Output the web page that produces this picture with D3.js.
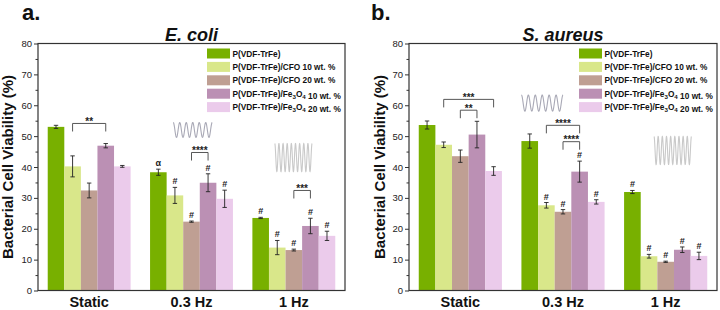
<!DOCTYPE html>
<html>
<head>
<meta charset="utf-8">
<script src="https://cdn.jsdelivr.net/npm/d3@7"></script>
<style>
  body { margin: 0; background: #fff; }
  svg { display: block; font-family: Arial, "Liberation Sans", sans-serif; }
</style>
</head>
<body>
<div id="chart"></div>
<script>
// ---- data ----
const groups = ["Static", "0.3 Hz", "1 Hz"];
const seriesNames = ["P(VDF-TrFe)", "P(VDF-TrFe)/CFO 10 wt. %", "P(VDF-TrFe)/CFO 20 wt. %",
    "P(VDF-TrFe)/Fe3O4 10 wt. %", "P(VDF-TrFe)/Fe3O4 20 wt. %"];
const seriesColors = ["#78b000", "#d9e78a", "#bf9f93", "#bb90b4", "#ebcbeb"];
const yTicks = [0, 10, 20, 30, 40, 50, 60, 70, 80];

// E. coli : one row per group, one value per series
const ecoliMean = [[53.0, 40.2, 32.4, 46.9, 40.2], [38.3, 30.8, 22.3, 34.9, 29.7], [23.5, 13.9, 13.1, 20.9, 17.7]];
const ecoliErr = [[0.5, 3.4, 2.4, 0.7, 0.3], [1.0, 2.6, 0.2, 2.9, 2.8], [0.2, 2.3, 0.3, 2.5, 1.5]];
const ecoliMarks = [["", "", "", "", ""], ["α", "#", "#", "#", "#"], ["#", "#", "#", "#", "#"]];
// [group, from series, to series, label, bracket level]
const ecoliSig = [[0, 1, 3, "**", 54.1], [1, 2, 3, "****", 44.7], [2, 2, 3, "***", 32.4]];

// S. aureus
const aureusMean = [[53.6, 47.2, 43.5, 50.5, 38.7], [48.4, 27.6, 25.5, 38.5, 28.7], [31.9, 11.1, 9.3, 13.2, 11.2]];
const aureusErr = [[1.3, 0.9, 2.0, 4.3, 1.4], [2.3, 0.9, 0.7, 3.4, 0.7], [0.5, 0.6, 0.2, 0.9, 1.2]];
const aureusMarks = [["", "", "", "", ""], ["", "#", "#", "#", "#"], ["#", "#", "#", "#", "#"]];
const aureusSig = [[0, 1, 4, "***", 61.9], [0, 2, 3, "**", 58.4], [1, 1, 3, "****", 53.5], [1, 2, 3, "****", 48.2]];

// ---- canvas ----
const width = 720, height = 310;
const svg = d3.select("#chart").append("svg")
    .attr("width", width)
    .attr("height", height);

function legendLabel(sel, name) {
    // Fe3O4 -> subscripts
    const parts = name.split(/(Fe3O4)/);
    parts.forEach(p => {
        if (p === "Fe3O4") {
            sel.append("tspan").text("Fe");
            sel.append("tspan").attr("font-size", "6.2px").attr("dy", 2).text("3");
            sel.append("tspan").attr("dy", -2).text("O");
            sel.append("tspan").attr("font-size", "6.2px").attr("dy", 2).text("4");
            sel.append("tspan").attr("dy", -2).text("");
        } else if (p.length) {
            sel.append("tspan").text(p);
        }
    });
}

function drawPanel(cfg) {
    const g = svg.append("g");
    const x = d3.scaleBand().domain(groups).range([cfg.left, cfg.right])
        .paddingInner(0.19).paddingOuter(0.095);
    const xs = d3.scaleBand().domain(d3.range(seriesNames.length)).range([0, x.bandwidth()]);
    const y = d3.scaleLinear().domain([0, 80]).range([cfg.bottom, cfg.top]);

    // bars
    groups.forEach((grp, gi) => {
        const gg = g.append("g").attr("transform", `translate(${x(grp)},0)`);
        gg.selectAll("rect")
            .data(cfg.mean[gi])
            .enter().append("rect")
            .attr("x", (d, i) => xs(i))
            .attr("y", d => y(d))
            .attr("width", xs.bandwidth())
            .attr("height", d => y(0) - y(d))
            .attr("fill", (d, i) => seriesColors[i]);

        // error bars
        const eb = gg.selectAll("g.err")
            .data(cfg.mean[gi].map((m, i) => ({ m: m, e: cfg.err[gi][i], i: i })))
            .enter().append("g").attr("class", "err")
            .attr("stroke", "#222").attr("stroke-width", 0.9);
        eb.append("line")
            .attr("x1", d => xs(d.i) + xs.bandwidth() / 2)
            .attr("x2", d => xs(d.i) + xs.bandwidth() / 2)
            .attr("y1", d => y(d.m - d.e)).attr("y2", d => y(d.m + d.e));
        [-1, 1].forEach(s => {
            eb.append("line")
                .attr("x1", d => xs(d.i) + xs.bandwidth() / 2 - 2.2)
                .attr("x2", d => xs(d.i) + xs.bandwidth() / 2 + 2.2)
                .attr("y1", d => y(d.m + s * d.e)).attr("y2", d => y(d.m + s * d.e));
        });

        // significance marks (#, α)
        gg.selectAll("text.mark")
            .data(cfg.mean[gi].map((m, i) => ({ m: m, e: cfg.err[gi][i], i: i, t: cfg.marks[gi][i] })))
            .enter().append("text").attr("class", "mark")
            .attr("x", d => xs(d.i) + xs.bandwidth() / 2)
            .attr("y", d => y(d.m + d.e) - 3)
            .attr("text-anchor", "middle")
            .attr("font-size", "9px").attr("font-weight", "bold").attr("fill", "#222")
            .text(d => d.t);
    });

    // brackets
    cfg.sig.forEach(s => {
        const grp = groups[s[0]];
        const x1 = x(grp) + xs(s[1]) + xs.bandwidth() / 2;
        const x2 = x(grp) + xs(s[2]) + xs.bandwidth() / 2;
        const yt = y(s[4]), yb = y(s[4] - 2.6);
        g.append("path")
            .attr("d", `M${x1},${yb}V${yt}H${x2}V${yb}`)
            .attr("fill", "none").attr("stroke", "#444").attr("stroke-width", 0.9);
        g.append("text")
            .attr("x", (x1 + x2) / 2).attr("y", yt + 1.5)
            .attr("text-anchor", "middle")
            .attr("font-size", "10px").attr("font-weight", "bold").attr("fill", "#222")
            .text(s[3]);
    });

    // waveform icons
    cfg.waves.forEach(w => {
        const x0 = x(groups[w.group]) + w.from * x.bandwidth();
        const x1 = x(groups[w.group]) + w.to * x.bandwidth();
        const pts = d3.range(0, 401).map(k => {
            const t = k / 400;
            return [x0 + t * (x1 - x0), (y(w.hi) + y(w.lo)) / 2 - Math.cos(t * w.cycles * 2 * Math.PI) * (y(w.lo) - y(w.hi)) / 2];
        });
        g.append("path")
            .attr("d", d3.line()(pts))
            .attr("fill", "none").attr("stroke", w.color).attr("stroke-width", 1.1);
    });

    // y axis
    const yAxis = g.append("g")
        .attr("transform", `translate(${cfg.left},0)`)
        .call(d3.axisLeft(y).tickValues(yTicks).tickSize(4).tickPadding(2));
    yAxis.select(".domain").remove();
    yAxis.selectAll("text").attr("font-size", "9.5px").attr("fill", "#222").attr("font-family", "Arial, Liberation Sans");
    yAxis.selectAll("line").attr("stroke", "#333");
    g.append("g")
        .attr("transform", `translate(${cfg.left},0)`)
        .call(d3.axisLeft(y).tickValues(d3.range(5, 80, 10)).tickSize(2.5).tickFormat(""))
        .call(a => a.select(".domain").remove())
        .selectAll("line").attr("stroke", "#333");

    // x axis labels
    const xAxis = g.append("g")
        .attr("transform", `translate(0,${cfg.bottom})`)
        .call(d3.axisBottom(x).tickSize(0).tickPadding(6));
    xAxis.select(".domain").remove();
    xAxis.selectAll("text")
        .attr("font-size", "14.5px").attr("font-weight", "bold").attr("fill", "#111")
        .attr("font-family", "Arial, Liberation Sans")
        .attr("dy", "0.75em");

    // frame
    g.append("rect")
        .attr("x", cfg.left).attr("y", cfg.top)
        .attr("width", cfg.right - cfg.left).attr("height", cfg.bottom - cfg.top)
        .attr("fill", "none").attr("stroke", "#333").attr("stroke-width", 1.2);

    // legend
    const lg = g.append("g").attr("transform", `translate(${cfg.legendX},${cfg.top + 5})`);
    seriesNames.forEach((n, i) => {
        lg.append("rect")
            .attr("x", 0).attr("y", i * 13.4)
            .attr("width", 23).attr("height", 10)
            .attr("fill", seriesColors[i]);
        const t = lg.append("text")
            .attr("x", 25.5).attr("y", i * 13.4 + 8)
            .attr("font-size", "8.3px").attr("font-weight", "bold").attr("fill", "#111");
        legendLabel(t, n);
    });

    // titles
    g.append("text")
        .attr("x", (cfg.left + cfg.right) / 2).attr("y", cfg.top - 2.5)
        .attr("text-anchor", "middle")
        .attr("font-size", "18px").attr("font-weight", "bold").attr("font-style", "italic")
        .attr("fill", "#111")
        .text(cfg.title);
    g.append("text")
        .attr("x", cfg.labelX).attr("y", 20)
        .attr("font-size", "22px").attr("font-weight", "bold").attr("fill", "#111")
        .text(cfg.panel);
    g.append("text")
        .attr("transform", `translate(${cfg.yLabelX},${(cfg.top + cfg.bottom) / 2}) rotate(-90)`)
        .attr("text-anchor", "middle")
        .attr("font-size", "15px").attr("font-weight", "bold").attr("fill", "#111")
        .text("Bacterial Cell Viability (%)");
}

drawPanel({
    left: 38, right: 345, top: 43.5, bottom: 290.5,
    mean: ecoliMean, err: ecoliErr, marks: ecoliMarks, sig: ecoliSig,
    title: "E. coli", panel: "a.", labelX: 22, yLabelX: 13, legendX: 207,
    waves: [
        { group: 1, from: 0.28, to: 0.75, hi: 54.4, lo: 49.6, cycles: 6, color: "#a9a9b6" },
        { group: 2, from: 0.27, to: 0.72, hi: 47.6, lo: 38.5, cycles: 9, color: "#c9c9c9" }
    ]
});

drawPanel({
    left: 409, right: 717, top: 43.5, bottom: 290.5,
    mean: aureusMean, err: aureusErr, marks: aureusMarks, sig: aureusSig,
    title: "S. aureus", panel: "b.", labelX: 371, yLabelX: 385, legendX: 579,
    waves: [
        { group: 1, from: 0.0, to: 0.5, hi: 63.3, lo: 58.1, cycles: 6, color: "#a9a9b6" },
        { group: 2, from: 0.36, to: 0.81, hi: 49.9, lo: 40.8, cycles: 9, color: "#c9c9c9" }
    ]
});
</script>
</body>
</html>
